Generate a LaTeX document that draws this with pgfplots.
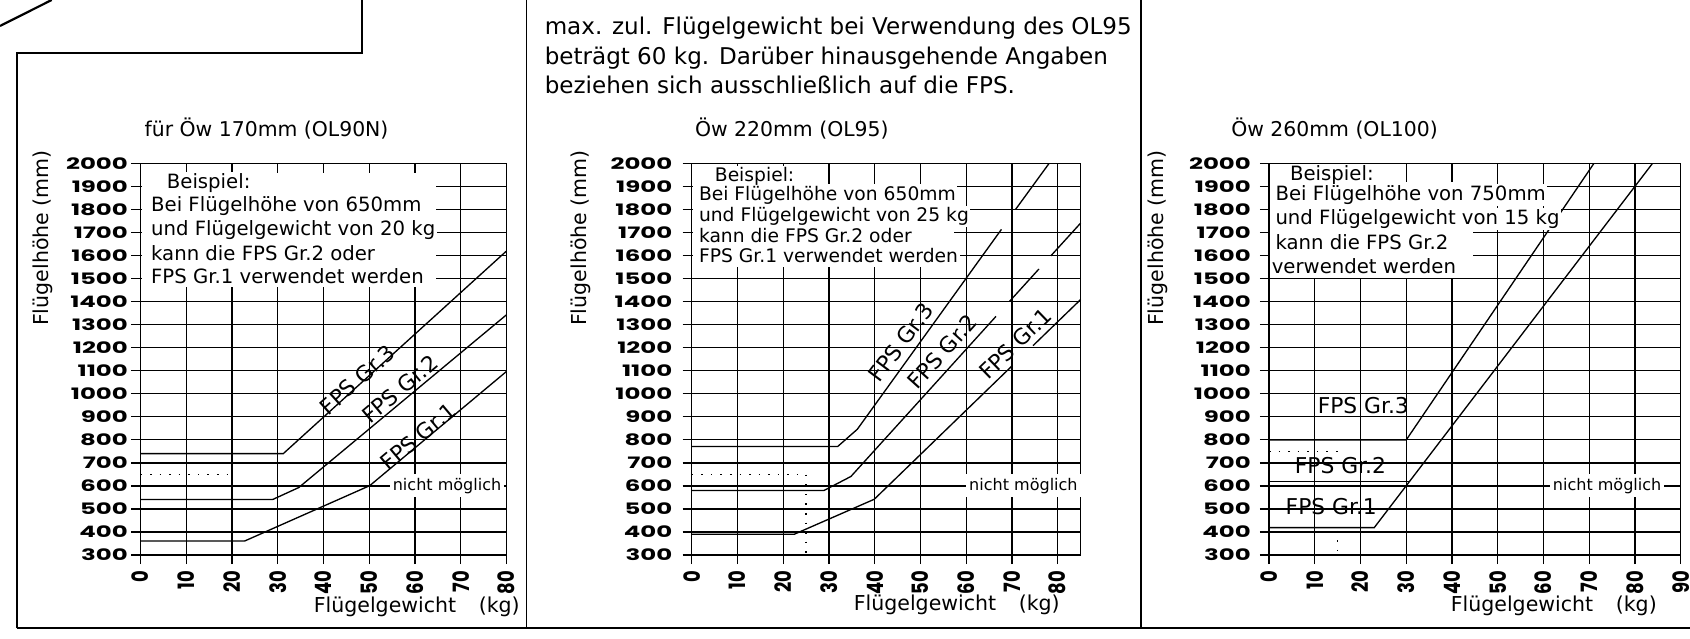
\documentclass[border=0pt]{standalone}
\usepackage{fontspec}
\setmainfont{DejaVu Sans}
\newfontfamily\tickfonty{Poppins}[FakeStretch=1.55]
\newfontfamily\tickfontx{Poppins}[FakeStretch=0.8]
\usepackage{pgfplots}
\pgfplotsset{compat=1.18}

\newcommand\fa{\fontsize{14}{16}\selectfont}
\newcommand\fb{\fontsize{13.3}{15}\selectfont}
\newcommand\ttl{\fontsize{14.5}{16}\selectfont}
\newcommand\lbl{\fontsize{14.6}{16}\selectfont}
\newcommand\nmf{\fontsize{11.4}{13}\selectfont}
\newcommand\fpsf{\fontsize{15.5}{17}\selectfont}
\newcommand\topf{\fontsize{16.4}{20}\selectfont}

\pgfplotsset{
  panel/.style={
    scale only axis, height=97.875mm,
    ymin=300, ymax=2000,
    ytick={300,400,...,2000},
    xtick={0,10,...,90},
    grid=major,
    grid style={black, line width=0.9pt},
    axis line style={black, line width=0.9pt},
    tick align=outside, tick pos=left,
    major tick length=2.3mm,
    every tick/.style={black, line width=0.9pt},
    /pgf/number format/assume math mode=true,
    /pgf/number format/1000 sep={},
    yticklabel style={font=\tickfonty\bfseries\fontsize{11.2}{12}\selectfont, anchor=east, inner sep=0pt},
    xticklabel style={font=\tickfontx\bfseries\fontsize{16}{17}\selectfont, rotate=90, anchor=east, inner sep=0pt},
    xticklabel shift=1.6mm,
    clip=false,
    anchor=south west,
  },
  curve/.style={black, line width=0.95pt, no marks},
  dots/.style={black, line width=1.1pt, dash pattern=on 1.1pt off 5.7pt, line cap=butt, no marks},
}
\tikzset{
  bx/.style={anchor=base west, inner sep=0.4mm, fill=white},
  nm/.style={fill=white, inner xsep=0.75mm, inner ysep=1mm, font=\nmf},
  fps/.style={inner sep=0pt, font=\fpsf},
}

\begin{document}
\begin{tikzpicture}[x=0.25mm, y=0.25mm]
\useasboundingbox (0,0) rectangle (1690,639);

% ---------- Panel 1 ----------
\begin{axis}[panel, width=91.5mm, xmin=0, xmax=80, at={(35.125mm,21mm)}, yticklabel shift=0.8mm]
\addplot[curve] coordinates {(0,740) (31.2,740) (80,1620)};
\addplot[curve] coordinates {(0,541) (28.9,541) (34.6,593) (80,1343)};
\addplot[curve] coordinates {(0,361) (22.8,361) (50.1,601) (80,1097)};
\addplot[dots] coordinates {(0,650) (20,650) (20,300)};
\fill[white] (axis cs:0.25,1957) rectangle (axis cs:64.5,1464);
\node[bx, font=\fa] at (axis cs:5.36,1890.6) {Beispiel:};
\node[bx, font=\fa] at (axis cs:1.92,1789.4) {Bei Flügelhöhe von 650mm};
\node[bx, font=\fa] at (axis cs:1.92,1688.2) {und Flügelgewicht von 20 kg};
\node[bx, font=\fa] at (axis cs:1.92,1579.7) {kann die FPS Gr.2 oder};
\node[bx, font=\fa] at (axis cs:1.92,1478.1) {FPS Gr.1 verwendet werden};
\node[nm] at (axis cs:67,601) {nicht möglich};
\node[fps, rotate=42] at (axis cs:47.4,1061) {FPS Gr.3};
\node[fps, rotate=40] at (axis cs:56.7,1020) {FPS Gr.2};
\node[fps, rotate=40] at (axis cs:60.7,814) {FPS Gr.1};
\end{axis}

% ---------- Panel 2 ----------
\begin{axis}[panel, width=97.22mm, xmin=0, xmax=85, at={(172.925mm,21mm)}, yticklabel shift=2.5mm]
\addplot[curve] coordinates {(0,771) (31.9,771) (36.2,846) (67.7,1714)};
\addplot[curve] coordinates {(70.8,1801) (78.1,2000)};
\addplot[curve] coordinates {(0,580) (28.9,580) (34.8,641) (66.5,1336)};
\addplot[curve] coordinates {(69.5,1402) (75.9,1542)};
\addplot[curve] coordinates {(78.5,1599) (85,1741)};
\addplot[curve] coordinates {(0,390) (22.4,390) (39.9,542) (69.9,1119)};
\addplot[curve] coordinates {(74.6,1209) (85,1409)};
\addplot[dots] coordinates {(0,650) (25,650) (25,300)};
\fill[white] (axis cs:0.25,1911) rectangle (axis cs:57.4,1551);
\node[bx, font=\fb] at (axis cs:4.66,1921) {Beispiel:};
\node[bx, font=\fb] at (axis cs:1.18,1838) {Bei Flügelhöhe von 650mm};
\node[bx, font=\fb] at (axis cs:1.18,1748) {und Flügelgewicht von 25 kg};
\node[bx, font=\fb] at (axis cs:1.18,1657) {kann die FPS Gr.2 oder};
\node[bx, font=\fb] at (axis cs:1.18,1570) {FPS Gr.1 verwendet werden};
\node[nm] at (axis cs:72.5,601) {nicht möglich};
\node[fps, rotate=53] at (axis cs:45.7,1223) {FPS Gr.3};
\node[fps, rotate=48] at (axis cs:54.8,1184) {FPS Gr.2};
\node[fps, rotate=44] at (axis cs:70.8,1218) {FPS Gr.1};
\end{axis}

% ---------- Panel 3 ----------
\begin{axis}[panel, width=102.94mm, xmin=0, xmax=90, at={(317.25mm,21mm)}, yticklabel shift=2.2mm]
\addplot[curve] coordinates {(0,800) (30,800) (71,2000)};
\addplot[curve] coordinates {(0,419) (23,419) (83.8,2000)};
\addplot[curve] coordinates {(0,619) (30.7,619)};
\addplot[dots] coordinates {(0,750) (15,750)};
\addplot[dots] coordinates {(15,405) (15,300)};
\fill[white] (axis cs:0.25,1920) rectangle (axis cs:44.5,1503);
\node[bx, font=\fa] at (axis cs:4.2,1928) {Beispiel:};
\node[bx, font=\fa] at (axis cs:1.0,1839) {Bei Flügelhöhe von 750mm};
\node[bx, font=\fa] at (axis cs:1.0,1736) {und Flügelgewicht von 15 kg};
\node[bx, font=\fa] at (axis cs:1.0,1626) {kann die FPS Gr.2};
\node[bx, font=\fa] at (axis cs:0.2,1521.5) {verwendet werden};
\node[nm] at (axis cs:73.9,601) {nicht möglich};
\node[fps] at (axis cs:20.6,948) {FPS Gr.3};
\node[fps] at (axis cs:15.6,688) {FPS Gr.2};
\node[fps] at (axis cs:13.6,510) {FPS Gr.1};
\end{axis}

% ---------- titles and labels ----------
\node[font=\ttl] at (266.6,510.7) {für Öw 170mm (OL90N)};
\node[font=\ttl] at (791.8,510.7) {Öw 220mm (OL95)};
\node[font=\ttl] at (1334.5,510.7) {Öw 260mm (OL100)};

\node[anchor=east, font=\lbl, inner sep=0] at (520,32) {Flügelgewicht\hspace{1.1em}(kg)};
\node[anchor=east, font=\lbl, inner sep=0] at (1060,34) {Flügelgewicht\hspace{1.1em}(kg)};
\node[anchor=east, font=\lbl, inner sep=0] at (1657,33) {Flügelgewicht\hspace{1.1em}(kg)};

\node[rotate=90, anchor=east, font=\lbl, inner sep=0] at (43,489) {Flügelhöhe (mm)};
\node[rotate=90, anchor=east, font=\lbl, inner sep=0] at (581,489) {Flügelhöhe (mm)};
\node[rotate=90, anchor=east, font=\lbl, inner sep=0] at (1157.7,489) {Flügelhöhe (mm)};

\node[anchor=base west, font=\topf, inner sep=0] at (544.5,604) {max. zul. Flügelgewicht bei Verwendung des OL95};
\node[anchor=base west, font=\topf, inner sep=0] at (544.5,574) {beträgt 60 kg. Darüber hinausgehende Angaben};
\node[anchor=base west, font=\topf, inner sep=0] at (544.5,545.7) {beziehen sich ausschließlich auf die FPS.};

% ---------- frame ----------
\draw[line width=0.55mm] (0,613) -- (51.7,639);
\draw[line width=0.55mm] (17.3,10.7) -- (17.3,585.7) -- (361.7,585.7) -- (361.7,639);
\draw[line width=0.55mm] (17.3,10.7) -- (1690,10.7);
\draw[line width=0.33mm] (526.7,10.7) -- (526.7,639);
\draw[line width=0.33mm] (1141,10.7) -- (1141,639);
\end{tikzpicture}
\end{document}
